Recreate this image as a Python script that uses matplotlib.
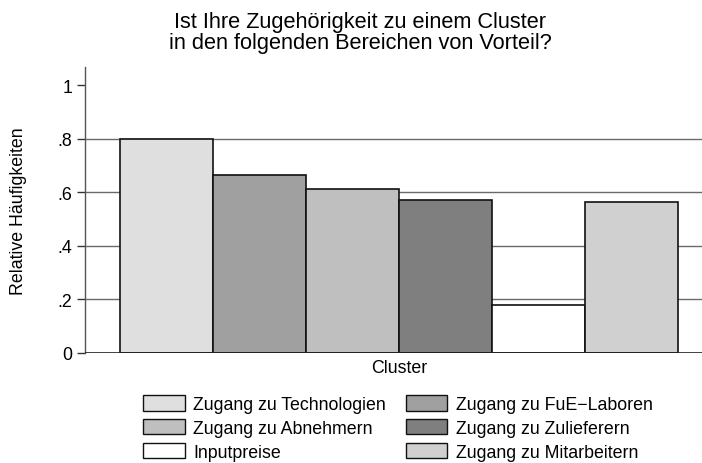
import numpy as np
import matplotlib.pyplot as plt
from matplotlib.patches import Patch

plt.rcParams['font.family'] = ['Liberation Sans', 'DejaVu Sans']

# Daten
kategorien = ['Zugang zu Technologien', 'Zugang zu FuE\u2212Laboren',
              'Zugang zu Abnehmern', 'Zugang zu Zulieferern',
              'Inputpreise', 'Zugang zu Mitarbeitern']
werte = [0.80, 0.665, 0.614, 0.572, 0.180, 0.565]
farben = ['#dfdfdf', '#a0a0a0', '#bfbfbf', '#7f7f7f', '#ffffff', '#d0d0d0']
yticks = [0, 0.2, 0.4, 0.6, 0.8, 1]
yticklabels = ['0', '.2', '.4', '.6', '.8', '1']

fs = 12.8

fig = plt.figure(figsize=(7.02, 4.64), dpi=100)
ax = fig.add_axes([85 / 702, 110 / 464, 628 / 702, 286 / 464])

x = np.arange(len(werte))
for yv in yticks[1:-1]:
    ax.axhline(yv, color='#6a6a6a', lw=1.0, zorder=0)
ax.axhline(0, color='#202020', lw=1.2, zorder=3)
ax.bar(x, werte, width=1.0, color=farben, edgecolor='#111111', linewidth=1.2, zorder=2)

ax.set_xlim(-0.5 - 35 / 93, len(werte) - 0.5 + 35 / 93)
ax.set_ylim(0, 1.069)
ax.set_yticks(yticks)
ax.set_yticklabels(yticklabels, fontsize=fs)
ax.tick_params(axis='y', direction='out', length=6, width=1, color='#333333', pad=3)
ax.set_xticks([])
for s in ['top', 'right', 'bottom']:
    ax.spines[s].set_visible(False)
ax.spines['left'].set_color('#555555')
ax.spines['left'].set_linewidth(1.0)
ax.set_ylabel('Relative Häufigkeiten', fontsize=fs)
ax.yaxis.set_label_coords(-(85 - 19) / 628, 0.5)
ax.set_xlabel('Cluster', fontsize=fs)
ax.xaxis.set_label_coords((399 - 85) / 628, -(369 - 354) / 286)
ax.xaxis.label.set_va('center')
ax.yaxis.label.set_va('center')

fig.text(360 / 702, 1 - 33 / 464,
         'Ist Ihre Zugehörigkeit zu einem Cluster\nin den folgenden Bereichen von Vorteil?',
         ha='center', va='center', fontsize=15.7, linespacing=1.0)

# Legende: erste Spalte Technologien/Abnehmer/Inputpreise, zweite FuE/Zulieferer/Mitarbeiter
reihenfolge = [0, 2, 4, 1, 3, 5]
handles = [Patch(facecolor=farben[i], edgecolor='#111111', linewidth=1.0) for i in reihenfolge]
labels = [kategorien[i] for i in reihenfolge]
fig.legend(handles, labels, ncol=2, loc='center', bbox_to_anchor=(398 / 702, 1 - 429 / 464),
           frameon=False, fontsize=fs, handlelength=2.35, handleheight=0.95,
           handletextpad=0.5, columnspacing=1.1, labelspacing=0.33, borderpad=0)

fig.savefig('out.png', dpi=100)
